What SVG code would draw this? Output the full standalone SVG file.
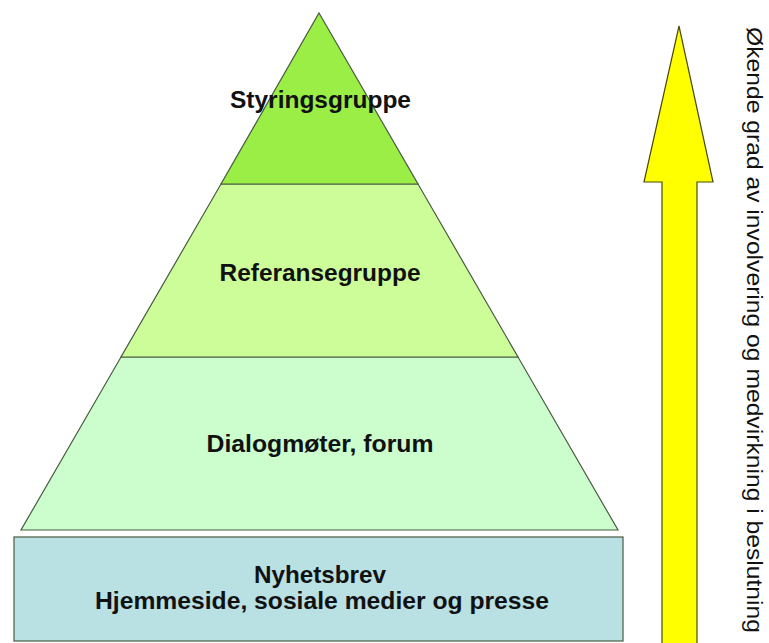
<svg xmlns="http://www.w3.org/2000/svg" width="769" height="643" viewBox="0 0 769 643">
<style>
.tier{stroke:#4a5a40;stroke-width:1.2;stroke-linejoin:miter}
.lbl{font-family:"Liberation Sans",Arial,sans-serif;font-weight:bold;font-size:24px;fill:#111;text-anchor:middle}
.side{font-family:"Liberation Sans",Arial,sans-serif;font-size:22px;fill:#111}
</style>
<rect width="769" height="643" fill="#ffffff"/>
<g id="tier-base">
<rect class="tier" x="14" y="537" width="609" height="104" fill="#b9e0e3" stroke="#555"/>
<text class="lbl" x="320" y="583" textLength="132" lengthAdjust="spacingAndGlyphs">Nyhetsbrev</text>
<text class="lbl" x="322" y="609" textLength="454" lengthAdjust="spacingAndGlyphs">Hjemmeside, sosiale medier og presse</text>
</g>
<g id="tier-dialog">
<polygon class="tier" points="121,357 518,357 618,530 21,530" fill="#ccfdcc"/>
<text class="lbl" x="320" y="452" textLength="227" lengthAdjust="spacingAndGlyphs">Dialogmøter, forum</text>
</g>
<g id="tier-referanse">
<polygon class="tier" points="221,184 418,184 518,357 121,357" fill="#ccfd99"/>
<text class="lbl" x="320" y="281" textLength="201" lengthAdjust="spacingAndGlyphs">Referansegruppe</text>
</g>
<g id="tier-styring">
<polygon class="tier" points="319,13 418,184 221,184" fill="#9bee46"/>
<text class="lbl" x="320.5" y="108" textLength="181" lengthAdjust="spacingAndGlyphs">Styringsgruppe</text>
</g>
<g id="connectors">
<polygon points="679,26 713,182 697,182 697,650 662,650 662,182 644,182" fill="#ffff00" stroke="#4a4a10" stroke-width="1.2"/>
</g>
<g id="arrow-label">
<text class="side" transform="translate(747,27) rotate(90)" x="0" y="0" textLength="606" lengthAdjust="spacingAndGlyphs">Økende grad av involvering og medvirkning i beslutning</text>
</g>
</svg>
